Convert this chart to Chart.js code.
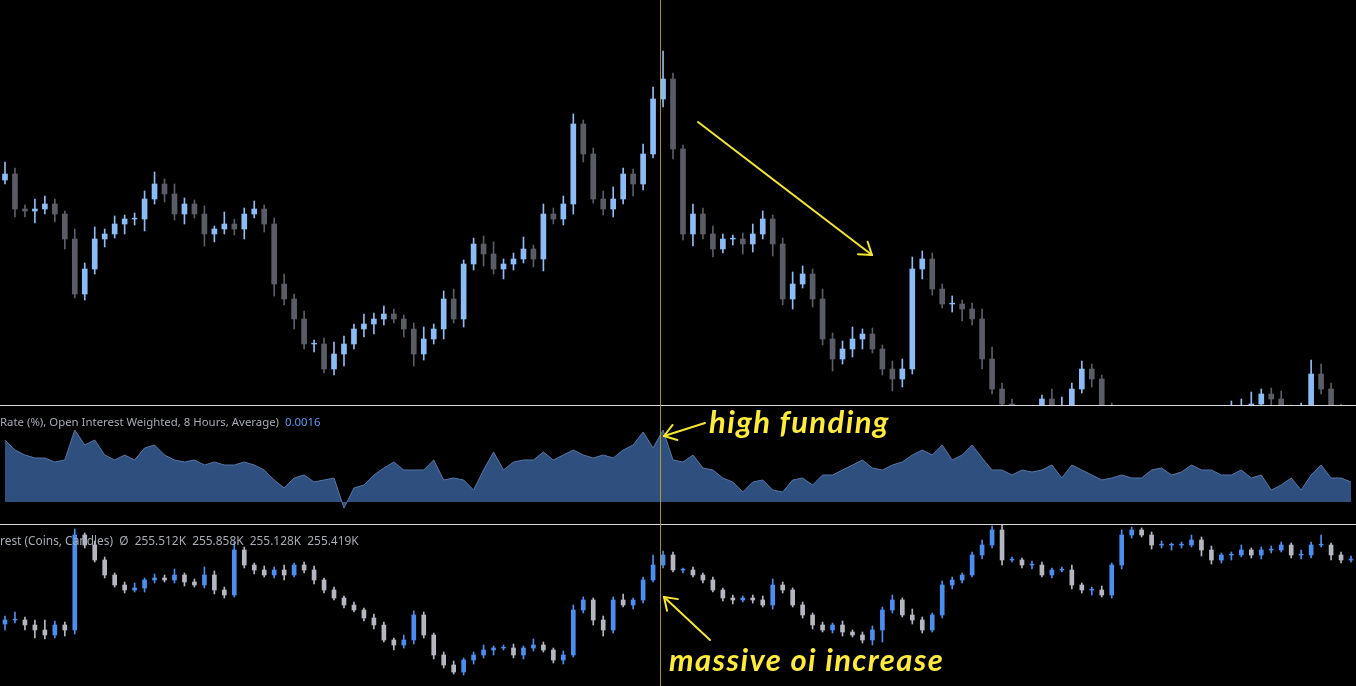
<!DOCTYPE html>
<html><head><meta charset="utf-8">
<script src="https://cdn.jsdelivr.net/npm/chart.js@4.4.1/dist/chart.umd.min.js"></script>
<style>
html,body{margin:0;padding:0;background:#000;width:1356px;height:686px;overflow:hidden;font-family:"Noto Sans",sans-serif}
.pane{position:absolute;left:0;width:1356px;overflow:hidden}
.sep{position:absolute;left:0;width:1356px;height:1px;background:#d8d8d8}
.lbl{position:absolute;left:0;font-size:11.4px;color:#a8abb4;white-space:pre}
.ann{position:absolute;font-family:Lato,"Open Sans",sans-serif;font-style:italic;font-weight:bold;font-size:31px;letter-spacing:1.4px;color:#ffeb3b;white-space:nowrap;line-height:1}
</style></head><body>
<div class="pane" style="top:0;height:405px"><canvas id="top" width="1356" height="405"></canvas></div>
<div class="pane" style="top:407px;height:117px"><canvas id="mid" width="1356" height="117"></canvas></div>
<div class="pane" style="top:525px;height:161px"><canvas id="bot" width="1356" height="161"></canvas></div>
<div class="sep" style="top:405px"></div>
<div class="sep" style="top:524px"></div>
<div class="lbl" style="top:414px">Rate (%), Open Interest Weighted, 8 Hours, Average)  <span style="color:#5b9cf6">0.0016</span></div>
<div class="lbl" style="top:532px;font-size:11.9px">rest (Coins, Candles)  Ø  255.512K  255.858K  255.128K  255.419K</div>
<svg id="ov" width="1356" height="686" style="position:absolute;left:0;top:0"></svg>
<div class="ann" style="left:709px;top:406px">high funding</div>
<div class="ann" style="left:669px;top:644px">massive oi increase</div>
<script>
// ---- price pane (arbitrary price units) ----
const priceOpen0 = 225;
const priceClose = [231,196,194,196,201,191,166,111,136,166,171,181,186,186,206,221,211,191,201,191,171,176,181,176,191,196,181,121,106,86,61,61,36,51,61,76,81,86,91,86,76,51,66,76,106,86,141,161,151,136,141,146,156,146,191,186,201,281,251,206,196,206,231,221,251,306,326,256,171,191,171,156,166,166,161,171,186,161,106,121,131,106,66,46,56,66,71,56,36,26,36,136,146,116,101,101,96,86,46,16,1,-14,-24,-14,6,-4,-4,16,36,26,-4,-24,-34,-34,-24,-34,-34,-34,-24,-24,-14,-24,-14,-4,-4,1,11,6,-4,-9,-4,31,16,-4,-14,-14];
const priceWickUp = [12,6,4,10,8,5,3,10,6,12,5,8,4,6,8,12,5,10,6,4,8,3,12,5,6,8,4,6,10,5,8,4,6,12,8,5,10,6,8,5,4,6,12,5,8,10,4,6,8,12,5,6,12,4,10,6,8,10,4,6,8,12,6,5,10,12,28,6,4,10,6,8,5,4,6,10,8,4,6,12,8,5,10,6,8,12,5,6,4,8,10,12,8,6,5,8,4,6,10,12,6,5,8,6,4,10,12,6,8,5,4,6,8,10,5,6,4,8,6,10,5,4,6,8,10,12,5,6,8,4,6,14,10,6,5,4];
const priceWickDn = [4,8,6,12,5,8,10,4,6,5,8,4,10,6,12,5,8,6,10,4,12,8,5,6,10,4,8,12,6,10,5,8,4,6,12,5,8,10,6,4,8,12,6,5,10,4,8,6,12,5,10,6,4,8,12,5,6,10,8,4,6,8,5,12,6,4,8,10,6,12,5,8,4,6,10,8,5,12,6,10,4,8,6,12,5,8,10,4,6,12,8,5,10,6,4,8,12,6,10,5,8,4,6,12,5,8,10,6,4,8,12,5,6,10,8,4,6,12,5,8,10,6,4,8,5,12,6,10,4,8,6,12,5,8,10,6];

// ---- funding rate pane (x0.0001 %) ----
const funding = [62,52,47,44,44,40,42,72,57,62,47,42,47,42,54,57,47,42,40,42,37,40,37,37,40,37,32,22,14,24,27,20,22,24,-6,14,17,27,34,40,32,32,32,42,22,24,22,12,32,50,32,40,42,42,50,42,47,52,47,44,47,44,52,57,70,54,72,42,40,47,34,32,24,20,10,20,22,12,10,22,24,17,27,27,32,37,42,34,32,37,40,47,52,47,57,42,47,57,44,32,32,27,32,30,32,37,24,37,32,27,22,24,27,24,24,32,34,27,30,37,32,32,27,27,32,24,27,12,17,24,12,27,37,24,24,20];

// ---- open interest pane (coins, arbitrary units) ----
const oiOpen0 = 62;
const oiClose = [66,66,61,56,51,61,56,151,141,126,111,101,96,98,106,108,106,111,104,101,111,96,91,136,121,116,111,116,111,121,116,106,96,88,81,76,68,61,46,41,46,71,51,31,21,14,26,31,36,38,38,31,38,41,36,26,31,76,86,66,56,86,81,86,106,121,131,116,116,111,106,96,88,86,88,86,81,101,96,81,71,61,56,61,54,51,46,56,76,86,71,66,56,71,101,106,111,131,141,156,126,126,121,121,111,116,116,101,96,96,91,121,151,156,151,141,141,141,141,146,136,126,131,131,136,131,136,136,141,131,131,141,141,131,126,126];
const oiWickUp = [4,8,3,5,10,4,3,6,2,4,3,2,3,5,2,4,3,6,2,3,8,4,3,8,3,2,4,3,5,2,3,4,2,3,2,3,2,4,3,2,5,4,3,2,3,4,2,3,5,2,3,4,2,6,3,2,4,5,3,2,4,3,6,2,3,10,4,3,2,3,2,3,2,3,2,3,4,6,3,2,3,2,3,2,4,2,3,4,3,5,2,6,3,2,4,3,2,3,5,4,10,3,2,4,3,2,3,5,2,3,4,2,5,3,2,3,4,2,3,5,3,4,2,3,5,2,3,4,3,2,5,3,10,2,3,4];
const oiWickDn = [6,3,5,8,4,3,6,4,3,2,3,2,3,2,4,3,2,3,4,2,3,4,3,2,3,4,2,3,5,2,3,4,3,2,3,2,3,4,2,5,3,4,3,4,3,2,3,4,3,5,2,3,4,3,2,3,4,2,3,5,6,3,2,4,3,2,3,2,3,2,3,2,3,4,2,3,2,4,3,2,3,4,2,3,4,2,3,5,12,3,2,4,3,2,3,4,3,2,4,3,5,2,3,4,2,3,2,4,3,5,2,3,4,3,2,4,3,5,3,2,6,4,3,5,2,3,4,3,2,3,4,3,2,5,3,2];

Chart.defaults.animation = false;
Chart.defaults.responsive = false;
Chart.defaults.devicePixelRatio = 1;
Chart.defaults.plugins.legend.display = false;
Chart.defaults.plugins.tooltip.enabled = false;

function candleChart(id, open0, closes, wUp, wDn, min, max, upCol, dnCol, bodyW) {
  const opens = closes.map((c, i) => i === 0 ? open0 : closes[i - 1]);
  const bodies = closes.map((c, i) => [opens[i], c === opens[i] ? c + 0.8 : c]);
  const wicks = closes.map((c, i) => [Math.min(c, opens[i]) - (wDn[i] ?? 4), Math.max(c, opens[i]) + (wUp[i] ?? 4)]);
  const cols = closes.map((c, i) => c >= opens[i] ? upCol : dnCol);
  new Chart(document.getElementById(id), {
    type: 'bar',
    data: { labels: closes.map((_, i) => i), datasets: [
      { data: wicks, backgroundColor: cols, barThickness: 1, grouped: false },
      { data: bodies, backgroundColor: cols, barThickness: bodyW, grouped: false }
    ]},
    options: { layout: { padding: 0 },
      scales: { x: { display: false, offset: true }, y: { display: false, min, max } } }
  });
}
candleChart('top', priceOpen0, priceClose, priceWickUp, priceWickDn, 0, 405, '#8cbcf6', '#5a5d66', 5);
candleChart('bot', oiOpen0, oiClose, oiWickUp, oiWickDn, 0, 161, '#4b8ef0', '#b4b7bf', 4);

new Chart(document.getElementById('mid'), {
  type: 'line',
  data: { labels: funding.map((_, i) => i), datasets: [{
    data: funding, borderColor: '#5677a8', borderWidth: 1, backgroundColor: '#2f4f7e',
    fill: 'origin', pointRadius: 0, tension: 0 }]},
  options: { layout: { padding: 0 },
    scales: { x: { display: false, offset: true }, y: { display: false, min: -22, max: 95 } } }
});

const svg = document.getElementById('ov');
const NS = 'http://www.w3.org/2000/svg';
function line(x1, y1, x2, y2, col, w) {
  const l = document.createElementNS(NS, 'line');
  l.setAttribute('x1', x1); l.setAttribute('y1', y1); l.setAttribute('x2', x2); l.setAttribute('y2', y2);
  l.setAttribute('stroke', col); l.setAttribute('stroke-width', w); l.setAttribute('stroke-linecap', 'round');
  svg.appendChild(l);
}
function arrow(x1, y1, x2, y2) {
  const col = '#f5e52e';
  line(x1, y1, x2, y2, col, 2);
  const a = Math.atan2(y2 - y1, x2 - x1), L = 14;
  [0.6, -0.6].forEach(d => line(x2, y2, x2 - L * Math.cos(a + d), y2 - L * Math.sin(a + d), col, 2));
}
line(660.5, 0, 660.5, 686, 'rgba(190,170,40,0.85)', 1);
arrow(698, 122, 872, 255);
arrow(705, 423, 664, 436);
arrow(710, 640, 664, 597);
</script>
</body></html>
